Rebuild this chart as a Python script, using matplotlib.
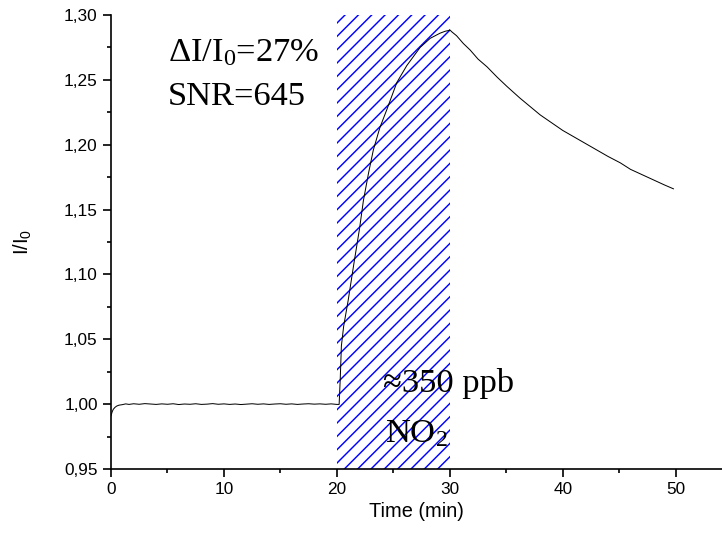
import matplotlib
matplotlib.use("Agg")
import matplotlib.pyplot as plt
from matplotlib.ticker import MultipleLocator, FuncFormatter

# ---- data ----
time_min = [0.0, 0.1, 0.2, 0.35, 0.5, 0.7, 1.0, 1.3, 1.6, 2.0, 2.5, 3.0, 3.5, 4.0,
            4.5, 5.0, 5.5, 6.0, 6.5, 7.0, 7.5, 8.0, 8.5, 9.0, 9.5, 10.0, 10.5, 11.0,
            11.5, 12.0, 12.5, 13.0, 13.5, 14.0, 14.5, 15.0, 15.5, 16.0, 16.5, 17.0,
            17.5, 18.0, 18.5, 19.0, 19.5, 20.0, 20.2,
            20.3, 20.4, 20.6, 21.0, 21.5, 22.0, 22.35, 22.8, 23.23, 23.8, 24.42,
            25.31, 26.19, 27.37, 28.26, 29.14, 29.6, 29.88, 30.0, 30.18, 30.6,
            31.2, 31.8, 32.5, 33.3, 34.2, 35.05, 36.2, 38.0, 40.0, 42.0, 44.0,
            45.1, 46.0, 47.0, 48.0, 49.0, 49.8]
ratio = [0.991, 0.994, 0.996, 0.9975, 0.9985, 0.9992, 0.9996, 1.0002, 0.9998, 1.0003,
         0.9999, 1.0004, 1.0001, 0.9998, 1.0002, 0.9999, 1.0003, 0.9997, 1.0001, 0.9999,
         1.0003, 0.9998, 1.0000, 1.0004, 0.9999, 1.0002, 0.9998, 1.0001, 0.9997, 1.0000,
         1.0003, 0.9999, 1.0002, 0.9998, 1.0001, 1.0003, 0.9999, 1.0002, 0.9998, 1.0001,
         1.0003, 1.0000, 1.0002, 0.9999, 1.0002, 0.9998, 0.9998,
         1.020, 1.045, 1.060, 1.080, 1.108, 1.135, 1.157, 1.178, 1.196, 1.213, 1.227,
         1.248, 1.261, 1.275, 1.282, 1.286, 1.2875, 1.288, 1.2885, 1.287, 1.284,
         1.278, 1.273, 1.266, 1.260, 1.252, 1.245, 1.236, 1.223, 1.211, 1.201, 1.191,
         1.186, 1.181, 1.177, 1.173, 1.169, 1.166]
gas_on, gas_off = 20.0, 30.0
x_ticks = [0, 10, 20, 30, 40, 50]
y_ticks = [0.95, 1.00, 1.05, 1.10, 1.15, 1.20, 1.25, 1.30]

DPI = 80
plt.rcParams['mathtext.default'] = 'regular'
plt.rcParams['hatch.linewidth'] = 1.3
plt.rcParams['font.family'] = ['Liberation Sans', 'DejaVu Sans']

fig = plt.figure(figsize=(722 / DPI, 538 / DPI), dpi=DPI)
ax = fig.add_axes([111 / 722, 69 / 538, 1 - 111 / 722, (469 - 15) / 538])

ax.axvspan(gas_on, gas_off, facecolor='none', edgecolor='#0000ff', linewidth=0,
           hatch='//', zorder=1)
ax.plot(time_min, ratio, color='black', linewidth=0.9, zorder=2)

ax.set_xlim(0, 54.1)
ax.set_ylim(0.95, 1.30)
ax.set_xticks(x_ticks)
ax.set_yticks(y_ticks)
ax.xaxis.set_minor_locator(MultipleLocator(5))
ax.yaxis.set_minor_locator(MultipleLocator(0.025))
ax.yaxis.set_major_formatter(FuncFormatter(lambda v, p: f"{v:.2f}".replace('.', ',')))
ax.xaxis.set_major_formatter(FuncFormatter(lambda v, p: f"{v:.0f}"))

for s in ['top', 'right']:
    ax.spines[s].set_visible(False)
for s in ['left', 'bottom']:
    ax.spines[s].set_linewidth(1.5)
ax.tick_params(which='major', direction='out', length=7, width=1.5, labelsize=15.5, pad=5)
ax.tick_params(which='minor', direction='out', length=4, width=1.5)

ax.set_xlabel('Time (min)', fontsize=18, labelpad=4)
ax.set_ylabel('I/I$_0$', fontsize=18, labelpad=27)

serif = ['Liberation Serif', 'DejaVu Serif']
ax.text(5.05, 1.264, 'ΔI/I$_0$=27%', family=serif, fontsize=31, va='baseline')
ax.text(5.05, 1.231, 'SNR=645', family=serif, fontsize=31, va='baseline')
ax.text(24.1, 1.009, '≈350 ppb', family=serif, fontsize=31, va='baseline')
ax.text(24.3, 0.971, 'NO$_2$', family=serif, fontsize=31, va='baseline')

fig.savefig('out.png', dpi=DPI)
